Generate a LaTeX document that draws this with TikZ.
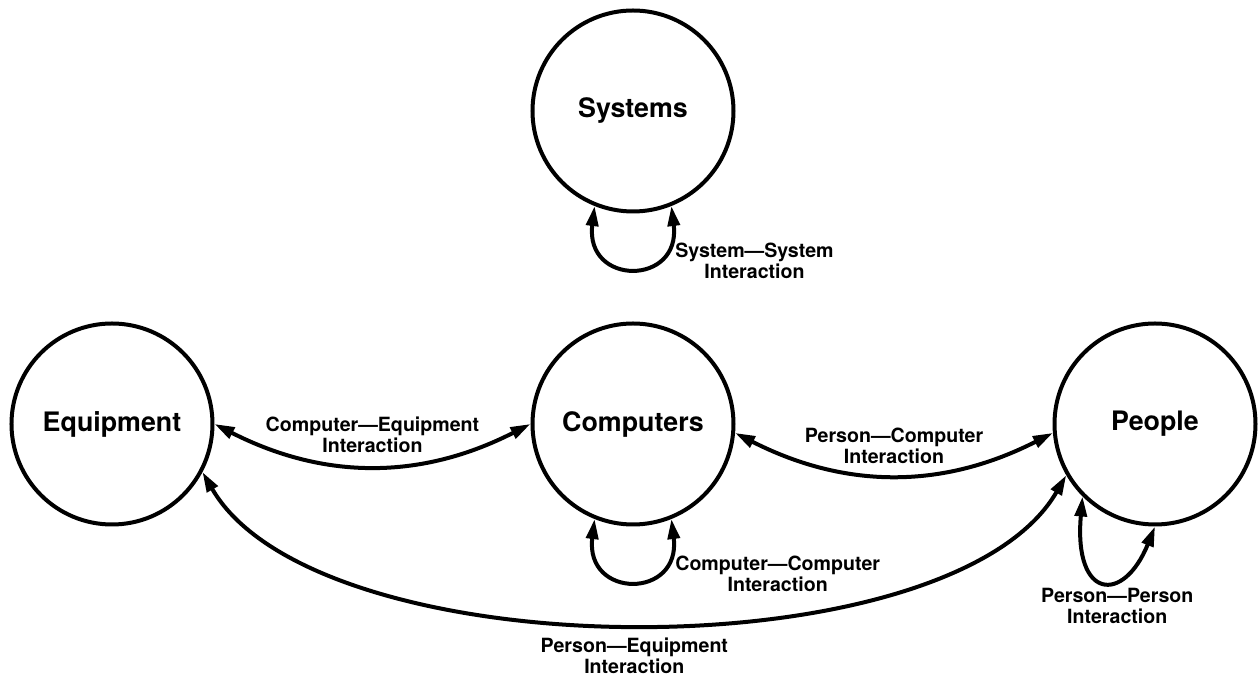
\documentclass[tikz,border=0pt]{standalone}
\usepackage{fontspec}
\setmainfont{TeX Gyre Heros}
\usetikzlibrary{positioning,arrows.meta}

\begin{document}
\begin{tikzpicture}[
    line width=2pt,
    actor/.style={circle,draw,minimum size=100.5pt,inner sep=0pt,font=\fontsize{13.4pt}{15pt}\selectfont\bfseries,on grid},
    link/.style={{Triangle[length=10pt,width=6pt]}-{Triangle[length=10pt,width=6pt]}},
    selfloop/.style={out=-97,in=-83,looseness=2.7},
    lbl/.style={font=\fontsize{9.8pt}{10.6pt}\selectfont\bfseries,align=center,inner sep=2pt},
  ]
\useasboundingbox (-316.5pt,-127pt) rectangle (312.5pt,212pt);

\node (computers) [actor] {Computers};
\node (equipment) [actor,left=260.5pt of computers] {Equipment};
\node (people) [actor,right=261pt of computers] {People};
\node (systems) [actor,above=156.5pt of computers] {Systems};

% links between the actors
\draw [link] (equipment.east) to[bend right=27]
  node[lbl,above=3.5pt] {Computer—Equipment\\Interaction} (computers.west);
\draw [link] (computers.-5) to[bend right=27]
  node[lbl,above=2.5pt] {Person—Computer\\Interaction} (people.185);
\draw [link] (equipment.-28) to[out=-60,in=-120,looseness=0.68]
  node[lbl,below=4.5pt] {Person—Equipment\\Interaction} (people.210);

% self loops
\draw [link] (systems.-112) to[selfloop]
  node[lbl,pos=0.85,anchor=north west] {System—System\\Interaction} (systems.-68);
\draw [link] (computers.-112) to[selfloop]
  node[lbl,pos=0.85,anchor=north west] {Computer—Computer\\Interaction} (computers.-68);
\draw [link] (people.-135) to[out=-95,in=-112,out distance=52pt,in distance=42pt]
  node[lbl,pos=0.58,below=1pt,xshift=3pt] {Person—Person\\Interaction} (people.-90);
\end{tikzpicture}
\end{document}
